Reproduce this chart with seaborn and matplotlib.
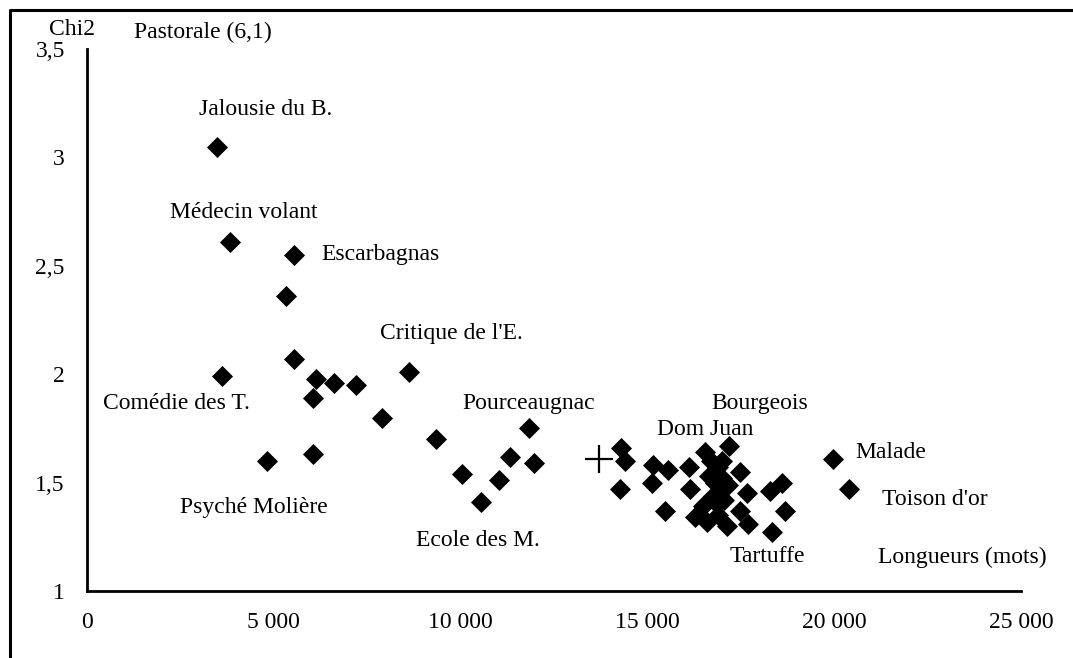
import matplotlib
matplotlib.use("Agg")
import matplotlib.pyplot as plt
import seaborn as sns
import pandas as pd
from matplotlib.lines import Line2D

# Play lengths (words) and Chi2 distance
longueurs = [
    3480, 3830, 5540, 5330, 5540, 3610, 6120, 6610, 7190, 8620,
    6060, 7900, 9330, 4830, 6060,
    10050, 10550, 11040, 11320, 11830, 11970,
    14290, 14400, 14270, 15160, 15560, 15120, 15470, 16120, 16540, 17190,
    16140, 16270, 16590, 16500, 17120, 17480, 17660, 17480, 17700, 18280,
    18600, 18680, 18330, 19960, 20400,
    16700, 16900, 17000, 16800, 16950, 16750, 17050, 16850, 17000, 16650,
    16900, 17150,
]
chi2 = [
    3.05, 2.61, 2.55, 2.36, 2.07, 1.99, 1.98, 1.96, 1.95, 2.01,
    1.89, 1.80, 1.70, 1.60, 1.63,
    1.54, 1.41, 1.51, 1.62, 1.75, 1.59,
    1.66, 1.60, 1.47, 1.58, 1.56, 1.50, 1.37, 1.57, 1.64, 1.67,
    1.47, 1.34, 1.32, 1.39, 1.30, 1.55, 1.45, 1.37, 1.31, 1.46,
    1.50, 1.37, 1.27, 1.61, 1.47,
    1.60, 1.57, 1.52, 1.50, 1.46, 1.44, 1.42, 1.40, 1.60, 1.53,
    1.35, 1.49,
]

# Mean point
moyenne_x = [13700]
moyenne_y = [1.61]

# Axis ticks
x_ticks = [0, 5000, 10000, 15000, 20000, 25000]
x_tick_labels = ["0", "5 000", "10 000", "15 000", "20 000", "25 000"]
y_ticks = [1, 1.5, 2, 2.5, 3, 3.5]
y_tick_labels = ["1", "1,5", "2", "2,5", "3", "3,5"]

# Annotations
label_texts = [
    "Chi2", "Pastorale (6,1)", "Jalousie du B.", "Médecin volant",
    "Escarbagnas", "Critique de l'E.", "Comédie des T.", "Pourceaugnac",
    "Bourgeois", "Dom Juan", "Malade", "Toison d'or", "Psyché Molière",
    "Ecole des M.", "Tartuffe", "Longueurs (mots)",
]
label_x = [
    -1017, 1258, 2998, 2222, 6263, 7843, 428, 10037,
    16702, 15257, 20557, 21280, 2489, 8806, 17211, 21172,
]
label_y = [
    3.588, 3.578, 3.219, 2.744, 2.554, 2.190, 1.867, 1.867,
    1.867, 1.747, 1.637, 1.420, 1.383, 1.235, 1.157, 1.157,
]

sns.set_theme(style="white")
plt.rcParams["font.family"] = ["Liberation Serif", "DejaVu Serif"]
plt.rcParams["font.size"] = 17

df = pd.DataFrame({"longueur": longueurs, "chi2": chi2})
df_m = pd.DataFrame({"longueur": moyenne_x, "chi2": moyenne_y})

fig = plt.figure(figsize=(10.73, 6.58), dpi=100)
ax = fig.add_axes([87 / 1073, 1 - 591 / 658, (1021 - 87) / 1073, (591 - 49) / 658])

sns.scatterplot(data=df, x="longueur", y="chi2", marker="D", s=115,
                color="black", linewidth=0, ax=ax, zorder=3)
sns.scatterplot(data=df_m, x="longueur", y="chi2", marker="+", s=420,
                color="black", linewidth=1.6, ax=ax, zorder=3)

ax.set_xlim(0, 25000)
ax.set_ylim(1, 3.5)
ax.set_xticks(x_ticks)
ax.set_xticklabels(x_tick_labels)
ax.set_yticks(y_ticks)
ax.set_yticklabels(y_tick_labels)
ax.set_xlabel("")
ax.set_ylabel("")

for side in ["top", "right"]:
    ax.spines[side].set_visible(False)
for side in ["left", "bottom"]:
    ax.spines[side].set_color("black")
    ax.spines[side].set_linewidth(2)

ax.tick_params(axis="both", which="major", direction="out", length=5,
               width=1.6, color="black", labelsize=17, labelcolor="black")
ax.tick_params(axis="x", pad=10)
ax.tick_params(axis="y", pad=11)

for t, x, y in zip(label_texts, label_x, label_y):
    ax.text(x, y, t, ha="left", va="center", fontsize=17,
            color="black", clip_on=False)

# Outer frame (top and left edges)
fx = 10 / 1073
fy = 1 - 10 / 658
fig.add_artist(Line2D([fx, fx, 1.0], [0.0, fy, fy], color="black",
                      linewidth=2.2, transform=fig.transFigure))

fig.savefig("out.png", dpi=100, facecolor="white")
